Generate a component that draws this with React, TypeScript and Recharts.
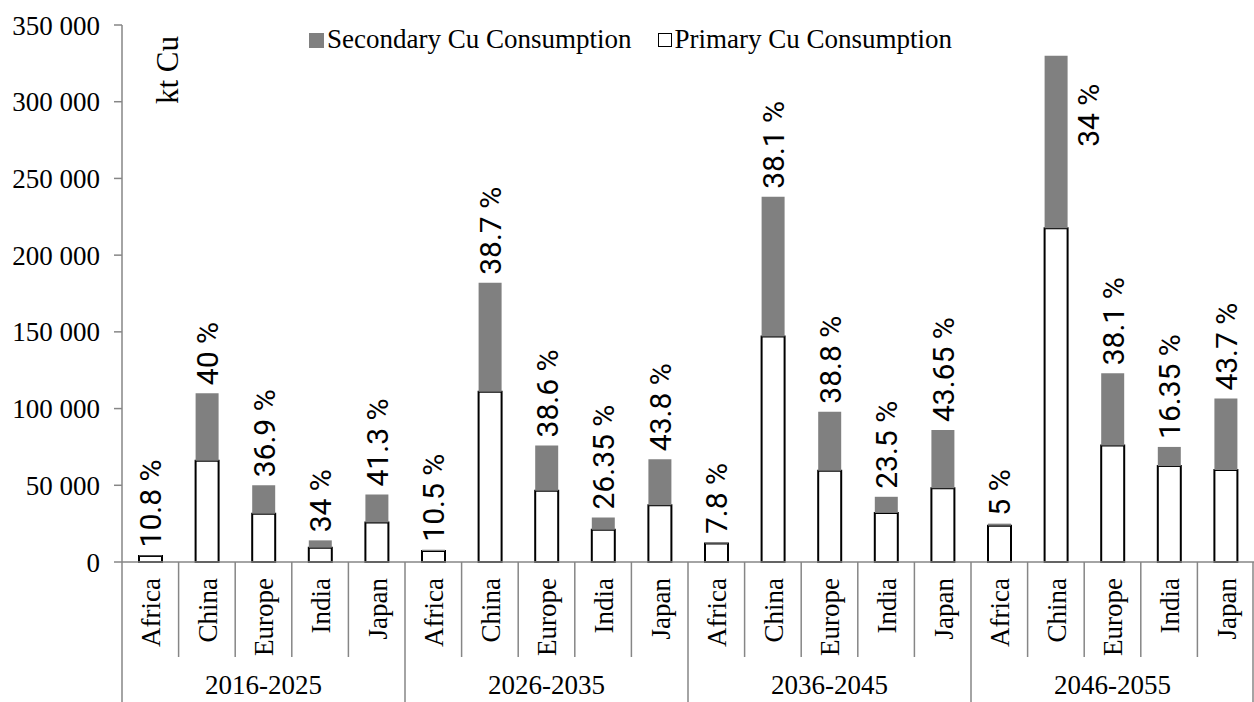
import React from "react";
import { Bar, BarChart, LabelList, Legend, XAxis, YAxis } from "recharts";

const regions = ["Africa", "China", "Europe", "India", "Japan"];
const periods = ["2016-2025", "2026-2035", "2036-2045", "2046-2055"];

// kt Cu, one array per period, in region order
const primary2016 = [3850, 66000, 31500, 9300, 25800];
const primary2026 = [7150, 111000, 46500, 21000, 37000];
const primary2036 = [12000, 147000, 59500, 32000, 48000];
const primary2046 = [23700, 217500, 76000, 62500, 60000];

const secondary2016 = [460, 44000, 18500, 4800, 18200];
const secondary2026 = [850, 71000, 29500, 8000, 30000];
const secondary2036 = [1000, 91000, 38500, 10500, 38000];
const secondary2046 = [1300, 112500, 47000, 12500, 46500];

const shares2016 = ["10.8 %", "40 %", "36.9 %", "34 %", "41.3 %"];
const shares2026 = ["10.5 %", "38.7 %", "38.6 %", "26.35 %", "43.8 %"];
const shares2036 = ["7.8 %", "38.1 %", "38.8 %", "23.5 %", "43.65 %"];
const shares2046 = ["5 %", "34 %", "38.1 %", "16.35 %", "43.7 %"];

const yTicks = [0, 50000, 100000, 150000, 200000, 250000, 300000, 350000];

const primaryByPeriod = [primary2016, primary2026, primary2036, primary2046];
const secondaryByPeriod = [secondary2016, secondary2026, secondary2036, secondary2046];
const sharesByPeriod = [shares2016, shares2026, shares2036, shares2046];

const data = periods.flatMap((p, pi) =>
  regions.map((r, ri) => ({
    key: `${p}|${r}`,
    primary: primaryByPeriod[pi][ri],
    secondary: secondaryByPeriod[pi][ri],
    share: sharesByPeriod[pi][ri],
  }))
);

const W = 1254;
const H = 702;
const AXIS_W = 122;
const XAXIS_H = 140;
const step = (W - AXIS_W) / data.length;
const GRAY = "#868686";
const SERIF = "'Liberation Serif', 'Times New Roman', serif";
const SANS = "Roboto, 'Liberation Sans', sans-serif";

const fmt = (v: number) => String(v).replace(/\B(?=(\d{3})+(?!\d))/g, " ");

function CategoryTick(props: any) {
  const { x, y, payload, index } = props;
  const [period, region] = String(payload.value).split("|");
  const left = x - step / 2;
  const isGroupStart = index % regions.length === 0;
  const isLast = index === data.length - 1;
  const ty = y + 16;
  return (
    <g>
      <line x1={left} x2={left} y1={y} y2={y + (isGroupStart ? XAXIS_H : 95)} stroke={GRAY} strokeWidth={1.5} />
      {isLast && (
        <line x1={x + step / 2 - 1} x2={x + step / 2 - 1} y1={y} y2={y + XAXIS_H} stroke={GRAY} strokeWidth={1.5} />
      )}
      <g transform={`translate(${x + 1}, ${ty}) rotate(-90)`}>
        <text x={0} y={0} dy="0.33em" textAnchor="end" fontFamily={SERIF} fontSize={27} fill="#000">
          {region}
        </text>
      </g>
      {index % regions.length === 2 && (
        <text x={x} y={y + 132} textAnchor="middle" fontFamily={SERIF} fontSize={27} fill="#000">
          {period}
        </text>
      )}
    </g>
  );
}

function ShareLabel(props: any) {
  const { x, y, width, value } = props;
  const cx = x + width / 2;
  if (y < 120) {
    // no room above the bar: put it beside, like the original
    const bx = x + width + 21;
    const by = y + 28;
    return (
      <g transform={`translate(${bx}, ${by}) rotate(-90)`}>
        <text x={0} y={0} dy="0.36em" textAnchor="end" fontFamily={SANS} fontSize={30} fill="#000">
          {value}
        </text>
      </g>
    );
  }
  const ly = y - 8;
  return (
    <g transform={`translate(${cx}, ${ly}) rotate(-90)`}>
      <text x={0} y={0} dy="0.36em" textAnchor="start" fontFamily={SANS} fontSize={30} fill="#000">
        {value}
      </text>
    </g>
  );
}

function LegendContent() {
  const items = [
    { name: "Secondary Cu Consumption", fill: "#808080", stroke: "none", gap: 0 },
    { name: "Primary Cu Consumption", fill: "#fff", stroke: "#000", gap: 26 },
  ];
  return (
    <div style={{ display: "flex", fontFamily: SERIF, fontSize: 27, color: "#000", lineHeight: "30px" }}>
      {items.map((it) => (
        <div key={it.name} style={{ display: "flex", alignItems: "center", marginLeft: it.gap }}>
          <span
            style={{
              display: "inline-block",
              width: it.stroke === "none" ? 15 : 12,
              height: it.stroke === "none" ? 15 : 12,
              background: it.fill,
              border: it.stroke === "none" ? "none" : `1.5px solid ${it.stroke}`,
              marginRight: 3,
              marginTop: 2,
            }}
          />
          <span>{it.name}</span>
        </div>
      ))}
    </div>
  );
}

export default function App() {
  return (
    <div style={{ position: "absolute", left: 0, top: 0, background: "#fff" }}>
      <BarChart width={W} height={H} data={data} margin={{ top: 25, right: 0, bottom: 0, left: 0 }}>
        <YAxis
          width={AXIS_W}
          domain={[0, 350000]}
          ticks={yTicks}
          tickFormatter={fmt}
          axisLine={{ stroke: GRAY, strokeWidth: 1.5 }}
          tickLine={{ stroke: GRAY, strokeWidth: 1.5 }}
          tickSize={8}
          tickMargin={14}
          tick={{ fill: "#000", fontFamily: SERIF, fontSize: 27 }}
          label={(p: any) => {
            const vb = p.viewBox || { x: 0, y: 25, width: AXIS_W };
            const lx = vb.x + vb.width + 45;
            const ly = vb.y + 45;
            return (
              <g transform={`translate(${lx}, ${ly}) rotate(-90)`}>
                <text x={0} y={0} dy="0.35em" textAnchor="middle" fontFamily={SERIF} fontSize={31} fill="#000">
                  kt Cu
                </text>
              </g>
            );
          }}
        />
        <XAxis
          dataKey="key"
          height={XAXIS_H}
          interval={0}
          tickLine={false}
          tickSize={0}
          tickMargin={0}
          axisLine={{ stroke: GRAY, strokeWidth: 1.5 }}
          tick={<CategoryTick />}
        />
        <Legend
          verticalAlign="middle"
          layout="horizontal"
          wrapperStyle={{ top: 24, left: 309, width: 760 }}
          content={<LegendContent />}
        />
        <Bar dataKey="primary" name="Primary Cu Consumption" stackId="a" fill="#fff" stroke="#000" strokeWidth={2} barSize={23} isAnimationActive={false} />
        <Bar dataKey="secondary" name="Secondary Cu Consumption" stackId="a" fill="#808080" barSize={23} isAnimationActive={false}>
          <LabelList dataKey="share" content={<ShareLabel />} />
        </Bar>
      </BarChart>
    </div>
  );
}
